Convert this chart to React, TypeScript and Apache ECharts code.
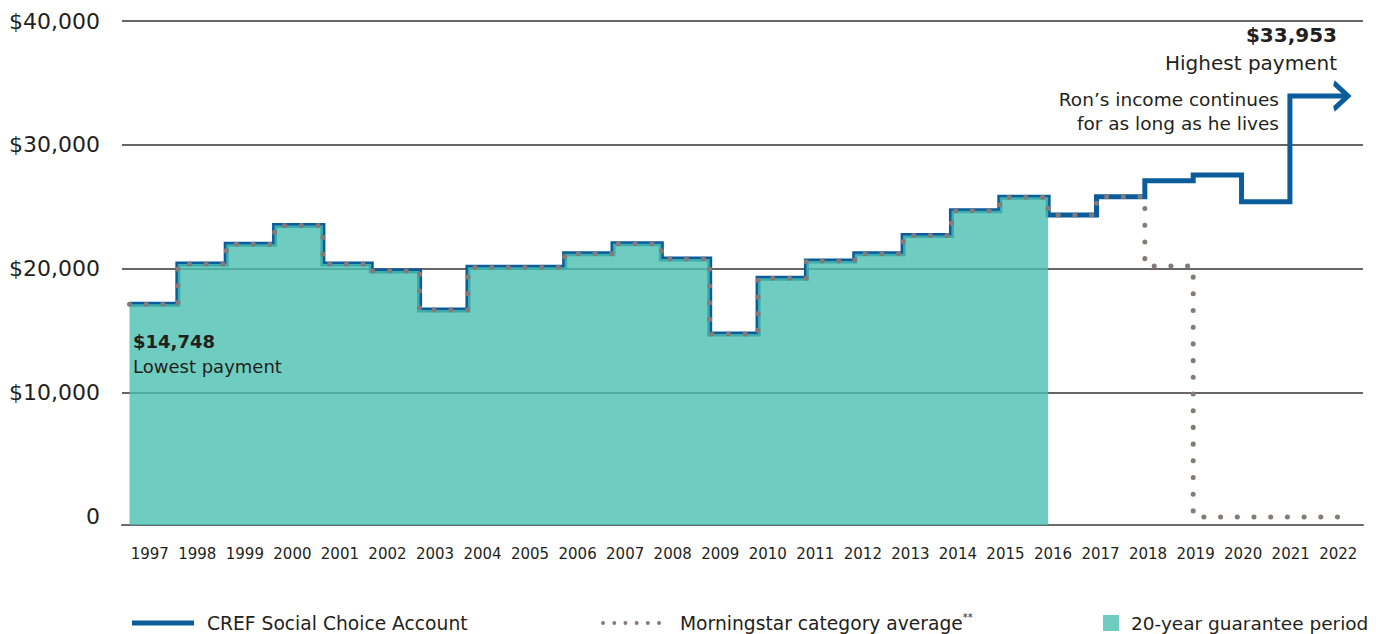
import React, { useEffect, useRef } from "react";
import * as echarts from "echarts";

// ---- data ----
const YEARS = [
  1997, 1998, 1999, 2000, 2001, 2002, 2003, 2004, 2005, 2006, 2007, 2008, 2009,
  2010, 2011, 2012, 2013, 2014, 2015, 2016, 2017, 2018, 2019, 2020, 2021,
];
const AXIS_YEARS = [
  "1997", "1998", "1999", "2000", "2001", "2002", "2003", "2004", "2005", "2006",
  "2007", "2008", "2009", "2010", "2011", "2012", "2013", "2014", "2015", "2016",
  "2017", "2018", "2019", "2020", "2021", "2022",
];
const CREF = [
  17150, 20400, 22000, 23500, 20400, 19840, 16700, 20140, 20140, 21230, 22040,
  20800, 14748, 19250, 20650, 21230, 22700, 24700, 25780, 24350, 25830, 27120,
  27580, 25430, 33953,
];
const MORNINGSTAR = [
  17150, 20400, 22000, 23500, 20400, 19840, 16700, 20140, 20140, 21230, 22040,
  20800, 14748, 19250, 20650, 21230, 22700, 24700, 25780, 24350, 25830, 20240,
  0, 0, 0,
];
const GUARANTEE_COUNT = 19; // shaded years 1997–2015
const Y_LABEL_VALUES = [0, 10000, 20000, 30000, 40000];
const GRID_VALUES = [10000, 20000, 30000, 40000];

// ---- style ----
const BLUE = "#0b5c9b";
const TEAL = "rgba(74,193,176,0.8)";
const TEAL_SOLID = "#6ecdc0";
const DOT = "#857a79";
const GRID = "#666666";
const TEXT = "#231f20";
const FONT = "DejaVu Sans";

const PX_LEFT = 122;
const PX_RIGHT = 1363;
const PX_1997 = 129.5;
const PX_PER_YEAR = 48.35;
const X_MIN = YEARS[0] - (PX_1997 - PX_LEFT) / PX_PER_YEAR;
const X_MAX = YEARS[0] + (PX_RIGHT - PX_1997) / PX_PER_YEAR;
const ARROW_EXT = 1.2;

function steps(years: number[], values: number[], endX: number) {
  const pts: any[] = years.map((y, i) => [y, values[i]]);
  pts.push([endX, values[values.length - 1]]);
  return pts;
}

export default function App() {
  const ref = useRef<HTMLDivElement>(null);
  useEffect(() => {
    if (!ref.current) return;
    const chart = echarts.init(ref.current, null, { renderer: "svg" });

    const lastYear = YEARS[YEARS.length - 1];
    const crefPts = steps(YEARS, CREF, lastYear + ARROW_EXT);
    const last = crefPts[crefPts.length - 1];
    crefPts[crefPts.length - 1] = {
      value: last,
      symbol: "path://M0,0 L14,13 L0,26",
      symbolSize: [14, 26],
      symbolOffset: [-7, 0],
      symbolKeepAspect: false,
      itemStyle: { color: "rgba(0,0,0,0)", borderColor: BLUE, borderWidth: 4.5 },
    };
    const msPts = steps(YEARS, MORNINGSTAR, lastYear + 1);
    const gYears = YEARS.slice(0, GUARANTEE_COUNT);
    const gPts = steps(gYears, CREF.slice(0, GUARANTEE_COUNT), gYears[gYears.length - 1] + 1);

    const txt = (x: number, y: number, text: string, font: string, align: string) => ({
      type: "text",
      x,
      y,
      z: 100,
      style: { text, font, fill: TEXT, align, verticalAlign: "middle" },
    });

    const option: any = {
      animation: false,
      grid: [
        { left: PX_LEFT, width: PX_RIGHT - PX_LEFT, top: 21, height: 504 },
        { left: 126, width: 1236, top: 21, height: 504 },
      ],
      xAxis: [
        {
          type: "value",
          gridIndex: 0,
          min: X_MIN,
          max: X_MAX,
          axisLabel: { show: false },
          axisTick: { show: false },
          splitLine: { show: false },
          axisLine: { show: true, onZero: false, lineStyle: { color: "#6b6b6b", width: 2.2 } },
        },
        {
          type: "category",
          gridIndex: 1,
          data: AXIS_YEARS,
          axisLine: { show: false },
          axisTick: { show: false },
          axisLabel: {
            interval: 0,
            margin: 21,
            fontSize: 15,
            lineHeight: 16,
            fontFamily: FONT,
            color: TEXT,
          },
        },
      ],
      yAxis: [
        {
          type: "value",
          gridIndex: 0,
          min: -650,
          max: 40000,
          splitLine: { show: false },
          axisLine: { show: false },
          axisTick: { show: false },
          axisLabel: {
            customValues: Y_LABEL_VALUES,
            margin: 22,
            fontSize: 22,
            fontFamily: FONT,
            color: TEXT,
            formatter: (v: number) => (v === 0 ? "0" : "$" + v.toLocaleString("en-US")),
          },
        },
        { type: "value", gridIndex: 1, min: 0, max: 1, show: false },
      ],
      series: [
        {
          name: "CREF Social Choice Account",
          type: "line",
          xAxisIndex: 0,
          yAxisIndex: 0,
          step: "end",
          z: 2,
          symbol: "none",
          showSymbol: true,
          data: crefPts,
          lineStyle: { color: BLUE, width: 5, join: "miter", cap: "butt" },
          itemStyle: { color: BLUE },
          markLine: {
            silent: true,
            z: 1,
            symbol: ["none", "none"],
            label: { show: false },
            lineStyle: { color: GRID, width: 2.2, type: "solid" },
            data: GRID_VALUES.map((v) => ({ yAxis: v })),
          },
        },
        {
          name: "20-year guarantee period",
          type: "line",
          xAxisIndex: 0,
          yAxisIndex: 0,
          step: "end",
          z: 3,
          symbol: "none",
          data: gPts,
          lineStyle: { width: 0 },
          areaStyle: { color: TEAL, origin: "start", opacity: 1 },
        },
        {
          name: "Morningstar category average",
          type: "line",
          xAxisIndex: 0,
          yAxisIndex: 0,
          step: "end",
          z: 4,
          symbol: "none",
          data: msPts,
          lineStyle: { color: DOT, width: 5, type: [0.1, 16.6], cap: "round" },
        },
      ],
      graphic: [
        txt(1337, 35, "$33,953", `bold 20px "${FONT}"`, "right"),
        txt(1337, 63, "Highest payment", `20px "${FONT}"`, "right"),
        txt(1279, 99, "Ron’s income continues", `18.5px "${FONT}"`, "right"),
        txt(1279, 123, "for as long as he lives", `18.5px "${FONT}"`, "right"),
        txt(133, 341, "$14,748", `bold 18px "${FONT}"`, "left"),
        txt(133, 366, "Lowest payment", `18px "${FONT}"`, "left"),
        // legend
        {
          type: "line",
          z: 100,
          shape: { x1: 132, y1: 623, x2: 194, y2: 623 },
          style: { stroke: BLUE, lineWidth: 5 },
        },
        txt(207, 623, "CREF Social Choice Account", `18.7px "${FONT}"`, "left"),
        {
          type: "line",
          z: 100,
          shape: { x1: 603, y1: 623, x2: 670, y2: 623 },
          style: { stroke: DOT, lineWidth: 3.8, lineDash: [0.1, 11.1], lineCap: "round" },
        },
        {
          type: "text",
          x: 680,
          y: 612,
          z: 100,
          style: {
            text: "{a|Morningstar category average}{s|**}",
            rich: {
              a: { fontSize: 18.7, fontFamily: FONT, fill: TEXT, lineHeight: 22 },
              s: { fontSize: 10, fontFamily: FONT, fill: TEXT, verticalAlign: "top", lineHeight: 22 },
            },
          },
        },
        {
          type: "rect",
          z: 100,
          shape: { x: 1103, y: 615, width: 16, height: 16 },
          style: { fill: TEAL_SOLID },
        },
        txt(1131, 623, "20-year guarantee period", `18.5px "${FONT}"`, "left"),
      ],
    };
    chart.setOption(option);
    return () => chart.dispose();
  }, []);

  return (
    <div
      ref={ref}
      style={{ position: "fixed", left: 0, top: 0, width: 1376, height: 634, background: "#fff" }}
    />
  );
}
